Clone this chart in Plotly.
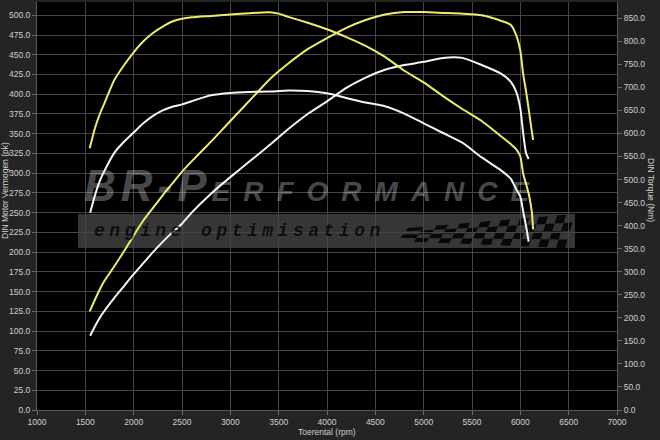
import plotly.graph_objects as go

# ---------------- data ----------------
rpm_tuned = [1545, 1600, 1650, 1700, 1800, 1900, 2000, 2100, 2200, 2300, 2400, 2500, 2600,
             2800, 3000, 3200, 3400, 3500, 3600, 3800, 4000, 4200, 4400, 4600, 4800, 5000,
             5200, 5400, 5600, 5800, 5900, 5960, 6000, 6030, 6060, 6090, 6120, 6132]
torque_tuned = [568, 612, 642, 667, 716, 748, 776, 800, 818, 832, 843, 849, 852,
                855, 858, 861, 863, 860, 853, 840, 826, 809, 790, 766, 736, 711,
                681, 653, 627, 594, 577, 565, 550, 512, 490, 466, 428, 392]
power_tuned = [125, 140, 153, 164, 182, 201, 221, 240, 256, 272, 287, 302, 315,
               340, 366, 392, 418, 429, 439, 457, 471, 484, 494, 501, 504, 504,
               503, 502, 500, 493, 488, 474, 455, 425, 403, 378, 352, 342]

rpm_stock = [1550, 1600, 1650, 1700, 1800, 1900, 2000, 2100, 2200, 2300, 2400, 2500, 2600,
             2800, 3000, 3200, 3400, 3600, 3800, 4000, 4200, 4400, 4600, 4800, 5000, 5200,
             5400, 5600, 5800, 5900, 5960, 6000, 6030, 6060, 6086]
torque_stock = [428, 466, 497, 520, 558, 582, 602, 622, 638, 650, 658, 663, 670,
                683, 688, 690, 691, 693, 692, 687, 677, 667, 659, 643, 622, 601,
                580, 548, 520, 502, 478, 463, 430, 398, 365]
power_stock = [94, 106, 117, 126, 142, 157, 172, 186, 200, 213, 225, 236, 250,
               274, 295, 315, 335, 356, 375, 391, 408, 421, 431, 437, 441, 446,
               446, 437, 426, 416, 402, 382, 350, 325, 318]

x_ticks = [1000, 1500, 2000, 2500, 3000, 3500, 4000, 4500, 5000, 5500, 6000, 6500, 7000]

# ---------------- styling ----------------
YELLOW = "#ecec6a"
WHITE = "#f4f4f4"
PAGE_BG = "#242424"
GRID = "#454545"
TICKFONT = dict(family="Liberation Sans, Arial, sans-serif", size=8.5, color="#cfcfcf")

X0, X1 = 1000, 7000
YL_MAX = 516.8
YR_MAX = 885.2
ML, MR, MT, MB = 37, 43, 2, 30
W, H = 660, 440
PW, PH = W - ML - MR, H - MT - MB


def px2x(px):
    return X0 + (px - ML) / PW * (X1 - X0)


def py2y(py):
    return (MT + PH - py) / PH * YL_MAX


fig = go.Figure()

line_style = dict(width=2, shape="spline", smoothing=0.6)
fig.add_trace(go.Scatter(x=rpm_tuned, y=power_tuned, mode="lines", yaxis="y",
                         line=dict(color=YELLOW, **line_style),
                         hoverinfo="skip", showlegend=False))
fig.add_trace(go.Scatter(x=rpm_stock, y=power_stock, mode="lines", yaxis="y",
                         line=dict(color=WHITE, **line_style),
                         hoverinfo="skip", showlegend=False))
fig.add_trace(go.Scatter(x=rpm_tuned, y=torque_tuned, mode="lines", yaxis="y2",
                         line=dict(color=YELLOW, **line_style),
                         hoverinfo="skip", showlegend=False))
fig.add_trace(go.Scatter(x=rpm_stock, y=torque_stock, mode="lines", yaxis="y2",
                         line=dict(color=WHITE, **line_style),
                         hoverinfo="skip", showlegend=False))

# ---------------- watermark (decoration) ----------------
shapes = []
bx0, bx1, by0, by1 = 78, 575, 214, 248
shapes.append(dict(type="rect", layer="below", xref="x", yref="y",
                   x0=px2x(bx0), x1=px2x(bx1), y0=py2y(by1), y1=py2y(by0),
                   fillcolor="rgba(120,120,120,0.45)", line=dict(width=0)))
ncol, nrow = 16, 4
fx0, fx1 = 402, 575
for i in range(ncol):
    for j in range(nrow):
        if (i + j) % 2:
            continue
        pts = []
        for (u, v) in [(i, j), (i + 1, j), (i + 1, j + 1), (i, j + 1)]:
            uu = (u / ncol) ** 0.85
            vv = v / nrow
            h = 10 + 24 * uu
            ytop = 228 - 14 * uu
            px = fx0 + (fx1 - fx0) * uu - 10 * vv + 6 * (1 - uu)
            py = ytop + h * vv + 3 * (1 - uu) * vv
            pts.append((px2x(px), py2y(py)))
        path = "M " + " L ".join(f"{a:.2f},{b:.3f}" for a, b in pts) + " Z"
        shapes.append(dict(type="path", layer="below", xref="x", yref="y", path=path,
                           fillcolor="rgba(0,0,0,0.85)", line=dict(width=0)))

annotations = [
    dict(xref="x", yref="y", x=px2x(82), y=py2y(212), xanchor="left", yanchor="bottom",
         showarrow=False,
         text="<b><i><span style='letter-spacing:5px'>BR-P</span>"
              "<span style='font-size:28px;letter-spacing:13px'>ERFORMANCE</span></i></b>",
         font=dict(family="Liberation Sans, Arial, sans-serif", size=44,
                   color="rgba(255,255,255,0.3)")),
    dict(xref="x", yref="y", x=px2x(92), y=py2y(231), xanchor="left", yanchor="middle",
         showarrow=False,
         text="<b><i><span style='letter-spacing:4.5px'>engine optimisation</span></i></b>",
         font=dict(family="Liberation Mono, DejaVu Sans Mono, monospace", size=18,
                   color="rgba(0,0,0,0.75)")),
    dict(xref="paper", yref="paper", x=(5 - ML) / PW, y=(MT + PH - 191) / PH,
         xanchor="center", yanchor="middle", showarrow=False, textangle=-90,
         text="DIN Motor Vermogen (pk)", font=TICKFONT),
    dict(xref="paper", yref="paper", x=(651 - ML) / PW, y=(MT + PH - 190) / PH,
         xanchor="center", yanchor="middle", showarrow=False, textangle=90,
         text="DIN Torque (Nm)", font=TICKFONT),
    dict(xref="paper", yref="paper", x=0.5, y=(MT + PH - 432) / PH,
         xanchor="center", yanchor="middle", showarrow=False,
         text="Toerental (rpm)", font=TICKFONT),
]

fig.update_layout(
    width=W, height=H,
    margin=dict(l=ML, r=MR, t=MT, b=MB, autoexpand=False),
    paper_bgcolor=PAGE_BG, plot_bgcolor="#000000",
    shapes=shapes, annotations=annotations,
    showlegend=False, hovermode=False,
    xaxis=dict(range=[X0, X1], tickvals=x_ticks, ticktext=[str(v) for v in x_ticks],
               showgrid=True, gridcolor=GRID, gridwidth=1, zeroline=False,
               showline=True, linecolor="#5a5a5a", linewidth=1,
               ticks="outside", ticklen=4, tickcolor="#6a6a6a",
               tickfont=TICKFONT),
    yaxis=dict(range=[0, YL_MAX], dtick=25, tick0=0, tickformat=".1f",
               showgrid=True, gridcolor=GRID, gridwidth=1, zeroline=False,
               showline=True, linecolor="#5a5a5a", linewidth=1,
               ticks="outside", ticklen=4, tickcolor="#6a6a6a",
               tickfont=TICKFONT),
    yaxis2=dict(range=[0, YR_MAX], dtick=50, tick0=0, tickformat=".1f",
                overlaying="y", side="right", showgrid=False, zeroline=False,
                showline=True, linecolor="#5a5a5a", linewidth=1,
                ticks="outside", ticklen=4, tickcolor="#6a6a6a",
                tickfont=TICKFONT),
)

fig.write_html("out.html",
               config={"displayModeBar": False},
               post_script="document.body.style.margin='0';"
                           "document.body.style.background='" + PAGE_BG + "';")
